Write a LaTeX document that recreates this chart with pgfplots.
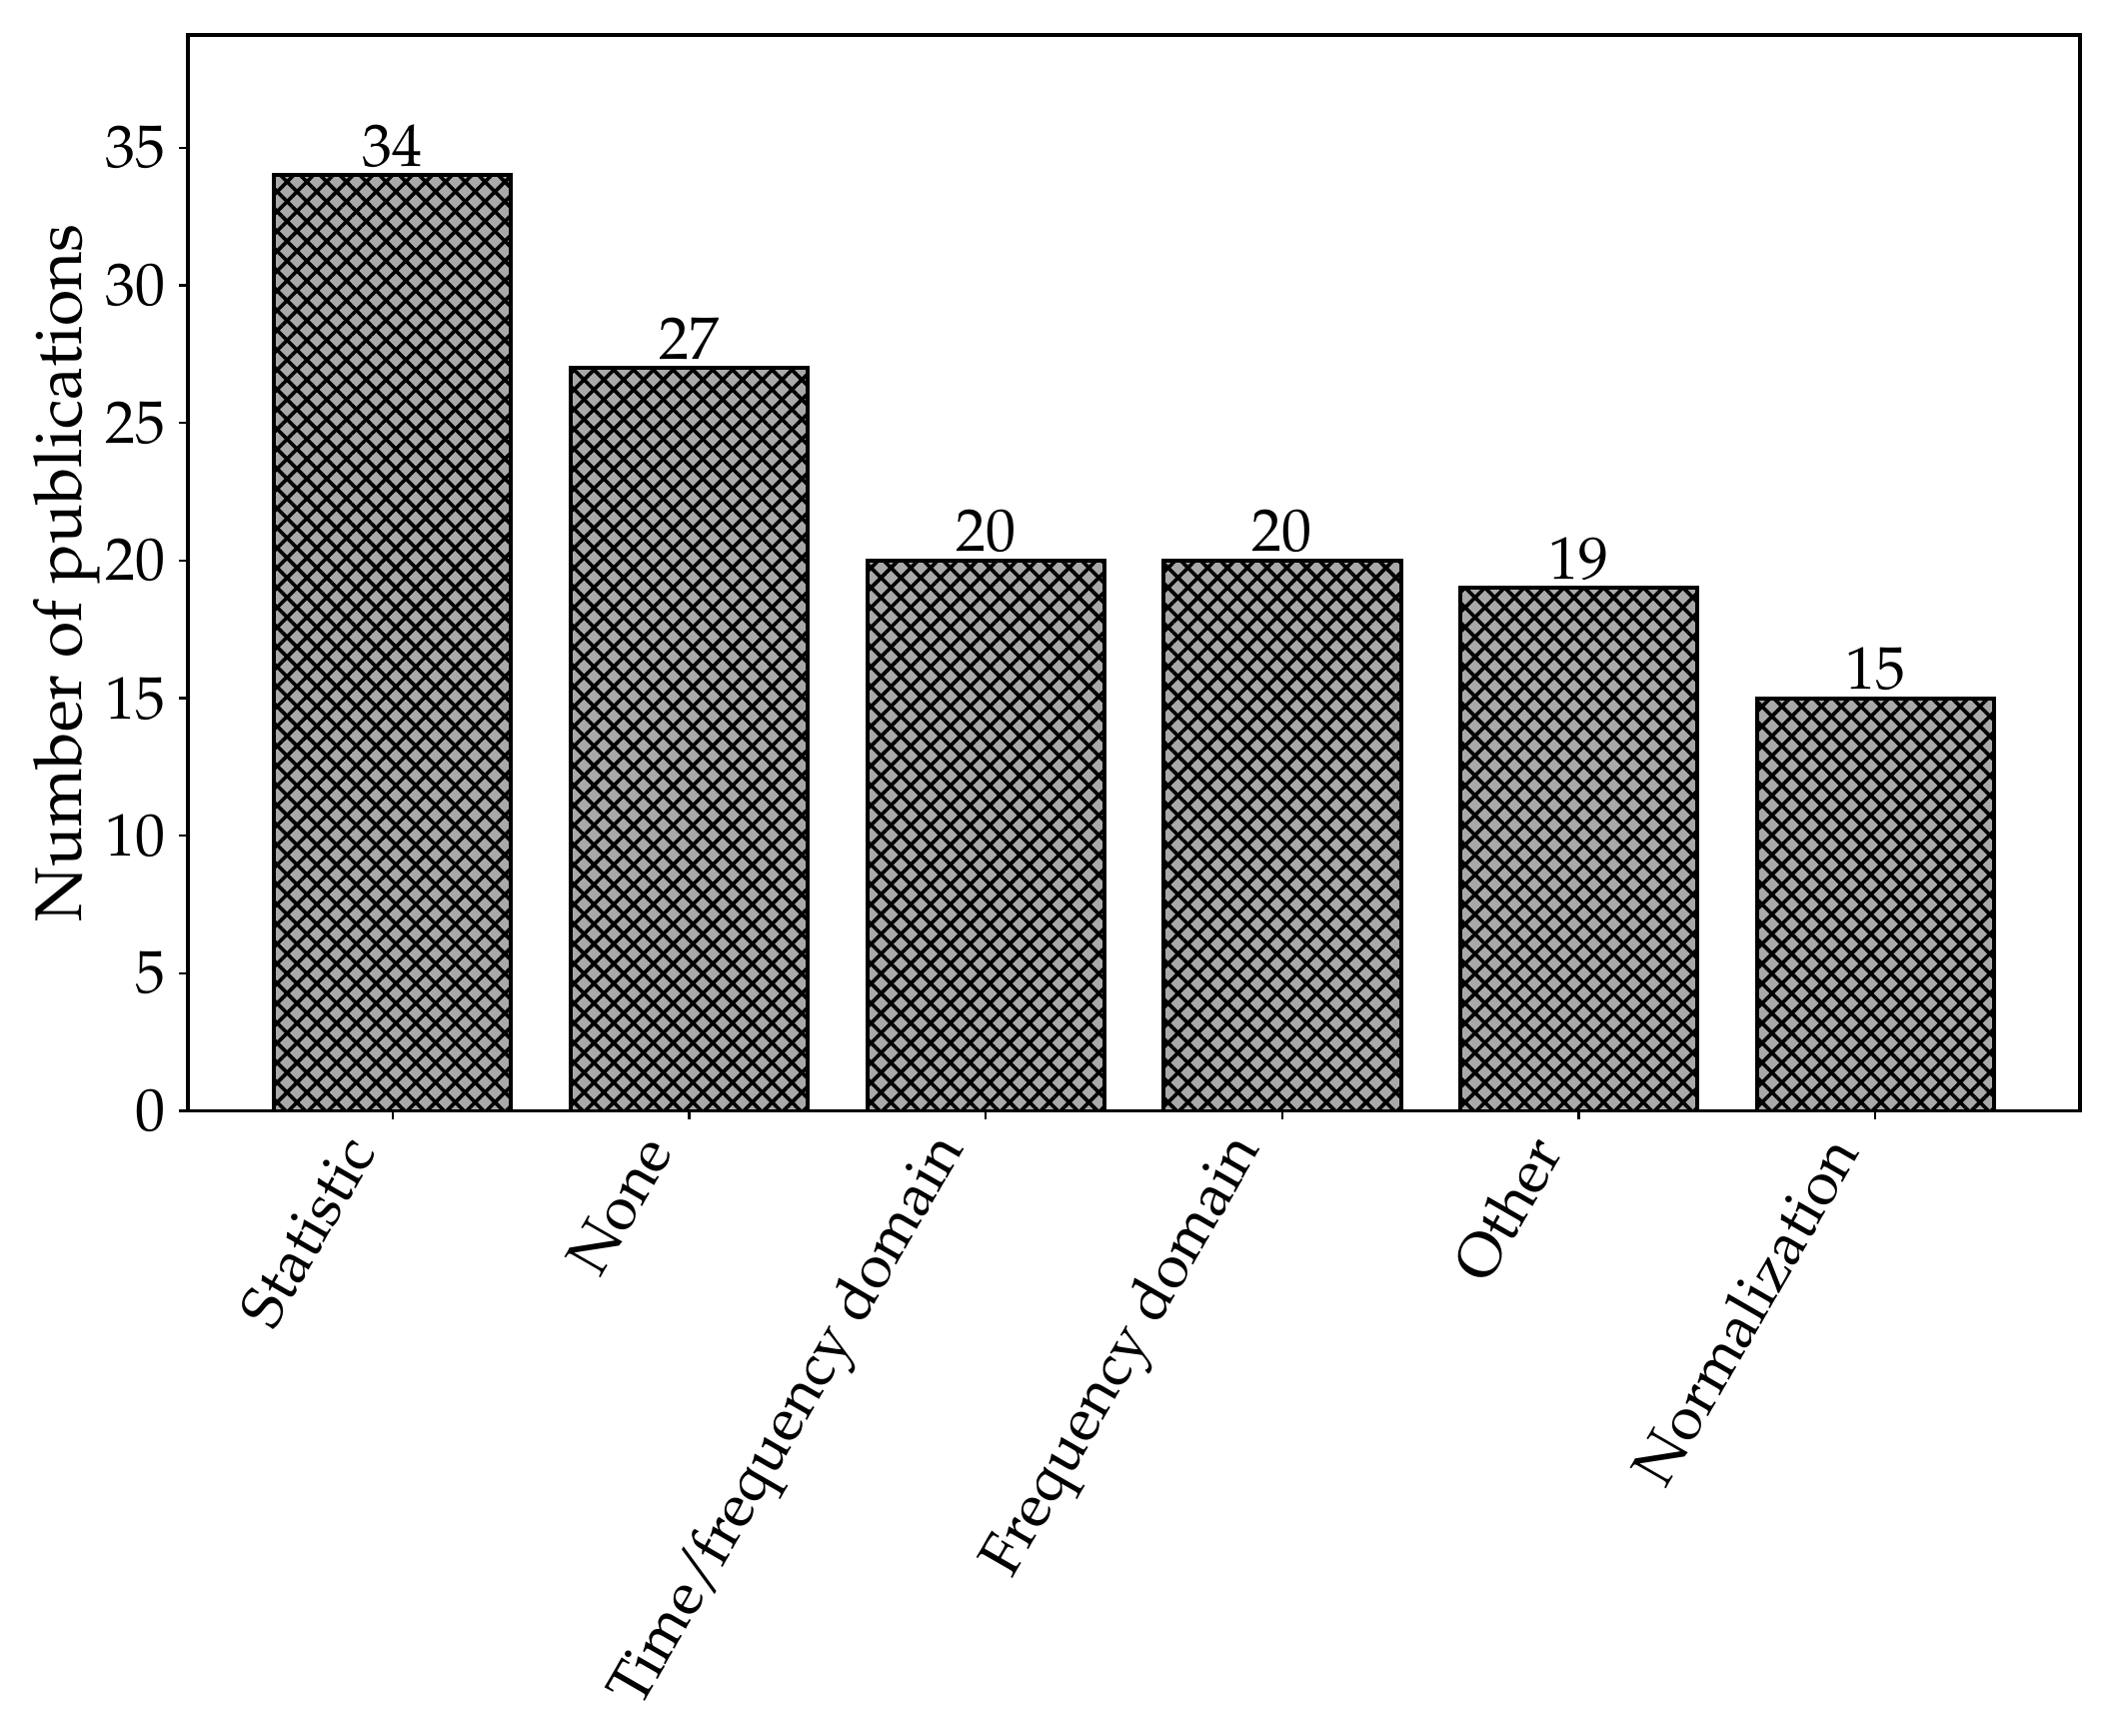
\documentclass[border=0pt]{standalone}
\usepackage[T1]{fontenc}
\usepackage{mathpazo}
\usepackage{pgfplots}
\pgfplotsset{compat=1.18}
\usetikzlibrary{patterns.meta}
\definecolor{barfill}{HTML}{A9A9A9}
\newcommand{\ff}{\fontsize{15}{18}\selectfont}
\begin{document}
\begin{tikzpicture}
\begin{axis}[
  scale only axis, width=473pt, height=269pt,
  ymin=0, ymax=39.1, xmin=-0.69, xmax=5.69,
  xtick=data,
  xticklabels={Statistic,None,{Time/\kern-1.3pt frequency domain},Frequency domain,Other,Normalization},
  xticklabel style={xshift=-6.5pt, yshift=-2.5pt, rotate=60, anchor=east, font=\ff},
  ytick={0,5,...,35},
  yticklabel style={font=\ff},
  ylabel={Number of publications},
  ylabel style={font=\fontsize{16.5}{19}\selectfont, at={(axis description cs:-0.046,0.5)}, anchor=south, inner sep=0pt},
  tick align=outside, xtick pos=bottom, ytick pos=left,
  major tick length=2.2pt,
  tick style={black, line width=0.6pt},
  axis line style={line width=0.8pt},
  ybar, bar width=0.8,
  nodes near coords,
  nodes near coords style={font=\ff, inner sep=1.5pt},
]
\addplot[draw=black, line width=1pt, fill=barfill,
  postaction={pattern={Lines[angle=45,distance=3.5pt,line width=0.9pt]}},
  postaction={pattern={Lines[angle=-45,distance=3.5pt,line width=0.9pt]}}]
  coordinates {(0,34)(1,27)(2,20)(3,20)(4,19)(5,15)};
\end{axis}
\pgfresetboundingbox
\path ([shift={(-47pt,-156.25pt)}]current axis.south west) rectangle ([shift={(10.5pt,8.75pt)}]current axis.north east);
\end{tikzpicture}
\end{document}
